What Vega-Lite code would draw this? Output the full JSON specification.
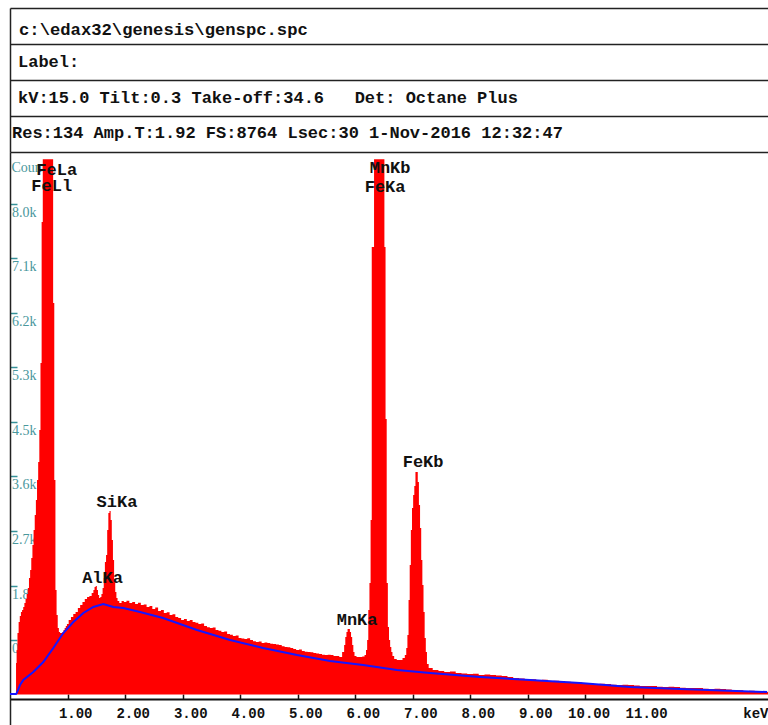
{
  "$schema": "https://vega.github.io/schema/vega-lite/v6.json",
  "background": "white",
  "padding": {"left": 6, "top": 8, "right": 0, "bottom": 0},
  "bounds": "flush",
  "spacing": 0,
  "config": {"view": {"stroke": null}},
  "datasets": {
    "header": [
      {"row": 1, "text": "c:\\edax32\\genesis\\genspc.spc"},
      {"row": 2, "text": "Label:"},
      {"row": 3, "text": "kV:15.0 Tilt:0.3 Take-off:34.6\u00a0\u00a0\u00a0Det: Octane Plus"},
      {"row": 4, "text": "Res:134 Amp.T:1.92 FS:8764 Lsec:30 1-Nov-2016 12:32:47"}
    ],
    "spectrum": [
      {"keV": 0.00, "counts": 16}, {"keV": 0.05, "counts": 16}, {"keV": 0.10, "counts": 20},
      {"keV": 0.11, "counts": 514}, {"keV": 0.12, "counts": 727}, {"keV": 0.14, "counts": 1004},
      {"keV": 0.16, "counts": 1184}, {"keV": 0.18, "counts": 1282}, {"keV": 0.20, "counts": 1347},
      {"keV": 0.22, "counts": 1380}, {"keV": 0.24, "counts": 1429}, {"keV": 0.26, "counts": 1494},
      {"keV": 0.28, "counts": 1559}, {"keV": 0.30, "counts": 1641}, {"keV": 0.32, "counts": 1739},
      {"keV": 0.34, "counts": 1903}, {"keV": 0.36, "counts": 2033}, {"keV": 0.38, "counts": 2229},
      {"keV": 0.40, "counts": 2441}, {"keV": 0.42, "counts": 2686}, {"keV": 0.44, "counts": 2931},
      {"keV": 0.46, "counts": 3176}, {"keV": 0.48, "counts": 3503}, {"keV": 0.50, "counts": 3797},
      {"keV": 0.52, "counts": 4319}, {"keV": 0.54, "counts": 5413}, {"keV": 0.56, "counts": 7716},
      {"keV": 0.58, "counts": 8740}, {"keV": 0.60, "counts": 8740}, {"keV": 0.62, "counts": 8740},
      {"keV": 0.64, "counts": 8740}, {"keV": 0.66, "counts": 8740}, {"keV": 0.68, "counts": 8740},
      {"keV": 0.70, "counts": 8740}, {"keV": 0.72, "counts": 8740}, {"keV": 0.74, "counts": 8740},
      {"keV": 0.76, "counts": 6393}, {"keV": 0.78, "counts": 3503}, {"keV": 0.80, "counts": 1707},
      {"keV": 0.82, "counts": 1298}, {"keV": 0.84, "counts": 1086}, {"keV": 0.86, "counts": 1021},
      {"keV": 0.88, "counts": 1004}, {"keV": 0.90, "counts": 1004}, {"keV": 0.92, "counts": 1021},
      {"keV": 0.94, "counts": 1053}, {"keV": 0.96, "counts": 1086}, {"keV": 0.98, "counts": 1119},
      {"keV": 1.00, "counts": 1151}, {"keV": 1.04, "counts": 1217}, {"keV": 1.08, "counts": 1266},
      {"keV": 1.12, "counts": 1315}, {"keV": 1.16, "counts": 1347}, {"keV": 1.20, "counts": 1413},
      {"keV": 1.24, "counts": 1462}, {"keV": 1.28, "counts": 1511}, {"keV": 1.32, "counts": 1559},
      {"keV": 1.36, "counts": 1592}, {"keV": 1.40, "counts": 1608}, {"keV": 1.44, "counts": 1657},
      {"keV": 1.46, "counts": 1707}, {"keV": 1.48, "counts": 1755}, {"keV": 1.50, "counts": 1772},
      {"keV": 1.52, "counts": 1707}, {"keV": 1.54, "counts": 1625}, {"keV": 1.56, "counts": 1576},
      {"keV": 1.58, "counts": 1592}, {"keV": 1.60, "counts": 1641}, {"keV": 1.62, "counts": 1739},
      {"keV": 1.64, "counts": 1903}, {"keV": 1.66, "counts": 2164}, {"keV": 1.68, "counts": 2278},
      {"keV": 1.70, "counts": 2686}, {"keV": 1.72, "counts": 2964}, {"keV": 1.74, "counts": 2997},
      {"keV": 1.76, "counts": 2850}, {"keV": 1.78, "counts": 2523}, {"keV": 1.80, "counts": 2196},
      {"keV": 1.82, "counts": 1870}, {"keV": 1.84, "counts": 1674}, {"keV": 1.86, "counts": 1576},
      {"keV": 1.88, "counts": 1527}, {"keV": 1.92, "counts": 1494}, {"keV": 1.96, "counts": 1527},
      {"keV": 2.00, "counts": 1511}, {"keV": 2.05, "counts": 1530}, {"keV": 2.10, "counts": 1494},
      {"keV": 2.15, "counts": 1510}, {"keV": 2.20, "counts": 1478}, {"keV": 2.25, "counts": 1500},
      {"keV": 2.30, "counts": 1462}, {"keV": 2.35, "counts": 1470}, {"keV": 2.40, "counts": 1429},
      {"keV": 2.45, "counts": 1445}, {"keV": 2.50, "counts": 1396}, {"keV": 2.55, "counts": 1420},
      {"keV": 2.60, "counts": 1364}, {"keV": 2.65, "counts": 1380}, {"keV": 2.70, "counts": 1331},
      {"keV": 2.75, "counts": 1345}, {"keV": 2.80, "counts": 1298}, {"keV": 2.85, "counts": 1310},
      {"keV": 2.90, "counts": 1266}, {"keV": 2.95, "counts": 1250}, {"keV": 3.00, "counts": 1217},
      {"keV": 3.05, "counts": 1235}, {"keV": 3.10, "counts": 1200}, {"keV": 3.15, "counts": 1215},
      {"keV": 3.20, "counts": 1184}, {"keV": 3.25, "counts": 1170}, {"keV": 3.30, "counts": 1151},
      {"keV": 3.35, "counts": 1160}, {"keV": 3.40, "counts": 1119}, {"keV": 3.45, "counts": 1100},
      {"keV": 3.50, "counts": 1086}, {"keV": 3.55, "counts": 1095}, {"keV": 3.60, "counts": 1053},
      {"keV": 3.65, "counts": 1040}, {"keV": 3.70, "counts": 1021}, {"keV": 3.75, "counts": 1030},
      {"keV": 3.80, "counts": 988}, {"keV": 3.85, "counts": 975}, {"keV": 3.90, "counts": 955},
      {"keV": 3.95, "counts": 965}, {"keV": 4.00, "counts": 923}, {"keV": 4.05, "counts": 915},
      {"keV": 4.10, "counts": 906}, {"keV": 4.15, "counts": 918}, {"keV": 4.20, "counts": 890},
      {"keV": 4.25, "counts": 870}, {"keV": 4.30, "counts": 857}, {"keV": 4.35, "counts": 865},
      {"keV": 4.40, "counts": 841}, {"keV": 4.45, "counts": 850}, {"keV": 4.50, "counts": 841},
      {"keV": 4.55, "counts": 830}, {"keV": 4.60, "counts": 825}, {"keV": 4.65, "counts": 818},
      {"keV": 4.70, "counts": 808}, {"keV": 4.75, "counts": 790}, {"keV": 4.80, "counts": 776},
      {"keV": 4.85, "counts": 770}, {"keV": 4.90, "counts": 759}, {"keV": 4.95, "counts": 745},
      {"keV": 5.00, "counts": 727}, {"keV": 5.05, "counts": 735}, {"keV": 5.10, "counts": 710},
      {"keV": 5.15, "counts": 700}, {"keV": 5.20, "counts": 694}, {"keV": 5.25, "counts": 690},
      {"keV": 5.30, "counts": 678}, {"keV": 5.35, "counts": 670}, {"keV": 5.40, "counts": 661},
      {"keV": 5.45, "counts": 650}, {"keV": 5.50, "counts": 645}, {"keV": 5.55, "counts": 650},
      {"keV": 5.60, "counts": 645}, {"keV": 5.65, "counts": 630}, {"keV": 5.70, "counts": 629},
      {"keV": 5.75, "counts": 612}, {"keV": 5.80, "counts": 694}, {"keV": 5.82, "counts": 808},
      {"keV": 5.84, "counts": 939}, {"keV": 5.86, "counts": 1021}, {"keV": 5.88, "counts": 1070},
      {"keV": 5.90, "counts": 1070}, {"keV": 5.92, "counts": 1021}, {"keV": 5.94, "counts": 939},
      {"keV": 5.96, "counts": 808}, {"keV": 5.98, "counts": 694}, {"keV": 6.00, "counts": 629},
      {"keV": 6.05, "counts": 612}, {"keV": 6.10, "counts": 612}, {"keV": 6.15, "counts": 620},
      {"keV": 6.18, "counts": 645}, {"keV": 6.20, "counts": 727}, {"keV": 6.22, "counts": 890},
      {"keV": 6.24, "counts": 1380}, {"keV": 6.26, "counts": 1821}, {"keV": 6.28, "counts": 2849},
      {"keV": 6.30, "counts": 7308}, {"keV": 6.32, "counts": 7308}, {"keV": 6.34, "counts": 8740},
      {"keV": 6.36, "counts": 8740}, {"keV": 6.38, "counts": 8740}, {"keV": 6.40, "counts": 8740},
      {"keV": 6.42, "counts": 8740}, {"keV": 6.44, "counts": 8740}, {"keV": 6.46, "counts": 8740},
      {"keV": 6.48, "counts": 8740}, {"keV": 6.50, "counts": 8740}, {"keV": 6.52, "counts": 7308},
      {"keV": 6.54, "counts": 4500}, {"keV": 6.56, "counts": 1821}, {"keV": 6.58, "counts": 1102},
      {"keV": 6.60, "counts": 890}, {"keV": 6.62, "counts": 776}, {"keV": 6.64, "counts": 694},
      {"keV": 6.66, "counts": 629}, {"keV": 6.70, "counts": 580}, {"keV": 6.75, "counts": 563},
      {"keV": 6.80, "counts": 563}, {"keV": 6.85, "counts": 596}, {"keV": 6.88, "counts": 645},
      {"keV": 6.90, "counts": 759}, {"keV": 6.92, "counts": 972}, {"keV": 6.94, "counts": 1543},
      {"keV": 6.96, "counts": 2115}, {"keV": 6.98, "counts": 2686}, {"keV": 7.00, "counts": 3046},
      {"keV": 7.02, "counts": 3258}, {"keV": 7.04, "counts": 3405}, {"keV": 7.06, "counts": 3634},
      {"keV": 7.08, "counts": 3634}, {"keV": 7.10, "counts": 3470}, {"keV": 7.12, "counts": 3095},
      {"keV": 7.14, "counts": 2719}, {"keV": 7.16, "counts": 2196}, {"keV": 7.18, "counts": 1788},
      {"keV": 7.20, "counts": 1347}, {"keV": 7.22, "counts": 923}, {"keV": 7.24, "counts": 694},
      {"keV": 7.26, "counts": 498}, {"keV": 7.30, "counts": 433}, {"keV": 7.4, "counts": 400},
      {"keV": 7.5, "counts": 385}, {"keV": 7.6, "counts": 367}, {"keV": 7.7, "counts": 375},
      {"keV": 7.8, "counts": 351}, {"keV": 7.9, "counts": 345}, {"keV": 8.0, "counts": 335},
      {"keV": 8.1, "counts": 340}, {"keV": 8.2, "counts": 318}, {"keV": 8.3, "counts": 325},
      {"keV": 8.4, "counts": 318}, {"keV": 8.5, "counts": 310}, {"keV": 8.6, "counts": 302},
      {"keV": 8.7, "counts": 285}, {"keV": 8.8, "counts": 269}, {"keV": 8.9, "counts": 262},
      {"keV": 9.0, "counts": 253}, {"keV": 9.1, "counts": 250}, {"keV": 9.2, "counts": 237},
      {"keV": 9.3, "counts": 240}, {"keV": 9.4, "counts": 220}, {"keV": 9.5, "counts": 225},
      {"keV": 9.6, "counts": 220}, {"keV": 9.7, "counts": 210}, {"keV": 9.8, "counts": 204},
      {"keV": 9.9, "counts": 195}, {"keV": 10.0, "counts": 188}, {"keV": 10.1, "counts": 180},
      {"keV": 10.2, "counts": 171}, {"keV": 10.3, "counts": 175}, {"keV": 10.4, "counts": 171},
      {"keV": 10.5, "counts": 160}, {"keV": 10.6, "counts": 155}, {"keV": 10.7, "counts": 158},
      {"keV": 10.8, "counts": 155}, {"keV": 10.9, "counts": 145}, {"keV": 11.0, "counts": 139},
      {"keV": 11.1, "counts": 140}, {"keV": 11.2, "counts": 139}, {"keV": 11.3, "counts": 128},
      {"keV": 11.4, "counts": 122}, {"keV": 11.5, "counts": 125}, {"keV": 11.6, "counts": 122},
      {"keV": 11.7, "counts": 112}, {"keV": 11.8, "counts": 106}, {"keV": 11.9, "counts": 108},
      {"keV": 12.0, "counts": 106}, {"keV": 12.1, "counts": 95}, {"keV": 12.2, "counts": 90},
      {"keV": 12.3, "counts": 92}, {"keV": 12.4, "counts": 90}, {"keV": 12.5, "counts": 80},
      {"keV": 12.6, "counts": 73}, {"keV": 12.7, "counts": 70}, {"keV": 12.8, "counts": 57},
      {"keV": 12.9, "counts": 60}, {"keV": 13.0, "counts": 57}, {"keV": 13.1, "counts": 50},
      {"keV": 13.18, "counts": 41}
    ],
    "background": [
      {"keV": 0.0, "counts": 8}, {"keV": 0.104, "counts": 8}, {"keV": 0.117, "counts": 24},
      {"keV": 0.174, "counts": 155}, {"keV": 0.231, "counts": 237}, {"keV": 0.405, "counts": 367},
      {"keV": 0.579, "counts": 531}, {"keV": 0.753, "counts": 759}, {"keV": 0.927, "counts": 1004},
      {"keV": 1.101, "counts": 1184}, {"keV": 1.275, "counts": 1331}, {"keV": 1.449, "counts": 1429},
      {"keV": 1.623, "counts": 1478}, {"keV": 1.797, "counts": 1429}, {"keV": 1.970, "counts": 1413},
      {"keV": 2.261, "counts": 1347}, {"keV": 2.661, "counts": 1249}, {"keV": 3.252, "counts": 1053},
      {"keV": 3.826, "counts": 890}, {"keV": 4.4, "counts": 759}, {"keV": 4.991, "counts": 645},
      {"keV": 5.565, "counts": 547}, {"keV": 6.139, "counts": 482}, {"keV": 6.730, "counts": 400},
      {"keV": 7.304, "counts": 351}, {"keV": 8.174, "counts": 286}, {"keV": 9.043, "counts": 237},
      {"keV": 9.913, "counts": 188}, {"keV": 10.783, "counts": 122}, {"keV": 11.652, "counts": 90},
      {"keV": 13.165, "counts": 41}
    ],
    "peaks": [
      {"label": "FeLa", "keV": 0.812, "counts": 8565},
      {"label": "FeLl", "keV": 0.725, "counts": 8304},
      {"label": "MnKb", "keV": 6.609, "counts": 8590},
      {"label": "FeKa", "keV": 6.522, "counts": 8288},
      {"label": "FeKb", "keV": 7.183, "counts": 3797},
      {"label": "SiKa", "keV": 1.861, "counts": 3144},
      {"label": "AlKa", "keV": 1.609, "counts": 1902},
      {"label": "MnKa", "keV": 6.035, "counts": 1217}
    ]
  },
  "vconcat": [
    {
      "width": 758,
      "height": 144,
      "data": {"name": "header"},
      "encoding": {
        "y": {
          "field": "row", "type": "quantitative",
          "scale": {"domain": [0.5, 4.5], "reverse": true, "nice": false, "zero": false},
          "axis": {"values": [0.5, 1.5, 2.5, 3.5, 4.5], "grid": true, "gridColor": "#222", "gridWidth": 1.5, "gridOpacity": 1,
                   "domain": true, "domainColor": "#222", "domainWidth": 1.5, "ticks": false, "labels": false, "title": null}
        },
        "x": {"datum": 0, "type": "quantitative", "scale": {"domain": [0, 1]}, "axis": null},
        "text": {"field": "text"}
      },
      "layer": [
        {"transform": [{"filter": "datum.row == 1"}],
         "mark": {"type": "text", "align": "left", "baseline": "middle", "dx": 9, "dy": 4, "font": "Liberation Mono", "fontWeight": "bold", "fontSize": 17.2, "color": "#111"}},
        {"transform": [{"filter": "datum.row == 2 || datum.row == 3"}],
         "mark": {"type": "text", "align": "left", "baseline": "middle", "dx": 8, "font": "Liberation Mono", "fontWeight": "bold", "fontSize": 17, "color": "#111"}},
        {"transform": [{"filter": "datum.row == 4"}],
         "mark": {"type": "text", "align": "left", "baseline": "middle", "dx": 2, "dy": -1, "font": "Liberation Mono", "fontWeight": "bold", "fontSize": 17, "color": "#111"}}
      ]
    },
    {
      "width": 758,
      "height": 573,
      "layer": [
        {
          "data": {"name": "spectrum"},
          "mark": {"type": "area", "interpolate": "step", "color": "#ff0000"},
          "encoding": {
            "x": {
              "field": "keV", "type": "quantitative",
              "scale": {"domain": [0, 13.18], "nice": false, "zero": false},
              "axis": {
                "values": [1, 2, 3, 4, 5, 6, 7, 8, 9, 10, 11], "format": ".2f", "orient": "bottom", "offset": -26,
                "grid": false, "domainColor": "#111", "domainWidth": 2,
                "tickColor": "#111", "tickWidth": 1.5, "tickSize": -5,
                "labelFont": "Liberation Mono", "labelFontWeight": "bold", "labelFontSize": 14, "labelColor": "#111",
                "labelAlign": "right", "labelOffset": 24.5, "labelBaseline": "alphabetic", "labelPadding": 23,
                "labelOverlap": false, "labelFlush": false, "labelBound": false,
                "title": "keV", "titleFont": "Liberation Mono", "titleFontWeight": "bold", "titleFontSize": 14, "titleColor": "#111",
                "titleX": 758, "titleY": 18, "titleAlign": "right", "titleBaseline": "alphabetic", "titleAngle": 0
              }
            },
            "y": {
              "field": "counts", "type": "quantitative",
              "scale": {"domain": [-498, 8859], "nice": false, "zero": false},
              "axis": {
                "values": [890, 1780, 2670, 3560, 4450, 5340, 6230, 7120, 8010],
                "labelExpr": "format(datum.value / 1000, '.1f') + 'k'",
                "orient": "left", "grid": false,
                "domain": true, "domainColor": "#222", "domainWidth": 1.5,
                "tickColor": "#379299", "tickWidth": 1.5, "tickSize": -7,
                "labelAlign": "left", "labelBaseline": "top", "labelPadding": 5.5, "labelOffset": 1.5,
                "labelFont": "Liberation Serif", "labelFontSize": 14, "labelColor": "#4a979c", "labelOverlap": false, "labelBound": false,
                "title": "Counts", "titleAngle": 0, "titleAlign": "left", "titleBaseline": "alphabetic",
                "titleX": 1, "titleY": 19.5, "titleFont": "Liberation Serif", "titleFontSize": 14, "titleFontWeight": "normal", "titleColor": "#4a979c"
              }
            },
            "y2": {"datum": 0}
          }
        },
        {
          "data": {"name": "background"},
          "mark": {"type": "line", "color": "#1515ff", "strokeWidth": 2},
          "encoding": {
            "x": {"field": "keV", "type": "quantitative"},
            "y": {"field": "counts", "type": "quantitative"}
          }
        },
        {
          "data": {"name": "peaks"},
          "mark": {"type": "text", "align": "center", "baseline": "middle", "font": "Liberation Mono", "fontWeight": "bold", "fontSize": 17, "color": "#111"},
          "encoding": {
            "x": {"field": "keV", "type": "quantitative"},
            "y": {"field": "counts", "type": "quantitative"},
            "text": {"field": "label"}
          }
        }
      ]
    }
  ]
}
